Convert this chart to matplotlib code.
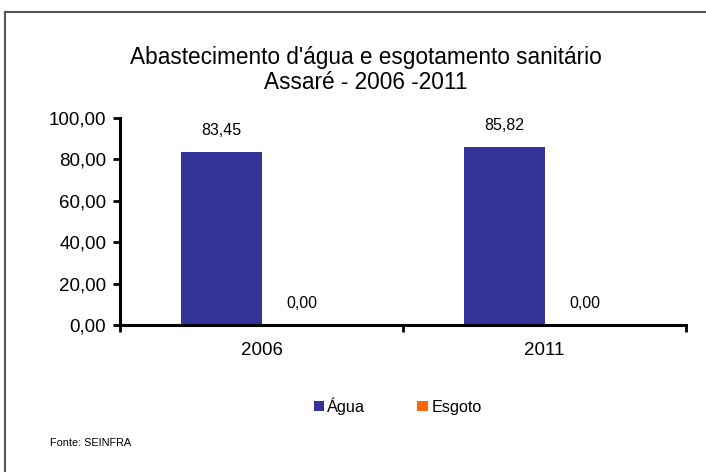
import matplotlib
matplotlib.use("Agg")
import matplotlib.pyplot as plt
from matplotlib.lines import Line2D

plt.rcParams['font.family'] = ['Liberation Sans', 'DejaVu Sans']

categories = ["2006", "2011"]
agua = [83.45, 85.82]
esgoto = [0.00, 0.00]
yticks = [0, 20, 40, 60, 80, 100]

fig = plt.figure(figsize=(7.06, 4.72), dpi=100)
ax = fig.add_axes([0.170, 0.3114, 0.802, 0.4386])

w = 0.286
x = list(range(len(categories)))
b1 = ax.bar([i - w / 2 for i in x], agua, w, color="#333399", label="Água")
b2 = ax.bar([i + w / 2 for i in x], esgoto, w, color="#FF6600", label="Esgoto")

def fmt(v):
    return f"{v:.2f}".replace(".", ",")

for bars in (b1, b2):
    for r in bars:
        h = r.get_height()
        ax.annotate(fmt(h), (r.get_x() + r.get_width() / 2, h),
                    xytext=(0, 10), textcoords="offset points",
                    ha="center", va="bottom", fontsize=11.5)

ax.set_xlim(-0.5, len(categories) - 0.5)
ax.set_ylim(0, 100)
ax.set_yticks(yticks)
ax.set_yticklabels([fmt(t) for t in yticks], fontsize=13.5)
ax.set_xticks([-0.5, 0.5, 1.5])
ax.set_xticklabels([])
ax.set_xticks(x, minor=True)
ax.set_xticklabels(categories, minor=True, fontsize=13.5)
ax.tick_params(axis="x", which="minor", length=0, pad=12)
ax.tick_params(axis="x", which="major", length=5, width=2, direction="out")
ax.tick_params(axis="y", length=5, width=2, direction="out", pad=5)
for s in ("top", "right"):
    ax.spines[s].set_visible(False)
for s in ("left", "bottom"):
    ax.spines[s].set_linewidth(2.2)

fig.text(0.518, 0.852, "Abastecimento d'água e esgotamento sanitário\nAssaré - 2006 -2011",
         ha="center", va="center", fontsize=16.3, linespacing=1.15)

fig.legend(handles=[b1, b2], loc="center", bbox_to_anchor=(0.563, 0.14), ncol=2,
           frameon=False, fontsize=11.7, handlelength=0.65, handleheight=0.65,
           handletextpad=0.2, columnspacing=3.2)

fig.text(0.071, 0.062, "Fonte: SEINFRA", fontsize=7.8, ha="left", va="center")

fig.add_artist(Line2D([0.007, 1.0], [0.975, 0.975], color="#555555", lw=1.5, transform=fig.transFigure))
fig.add_artist(Line2D([0.007, 0.007], [0.0, 0.975], color="#555555", lw=1.5, transform=fig.transFigure))

fig.savefig("out.png", dpi=100)
